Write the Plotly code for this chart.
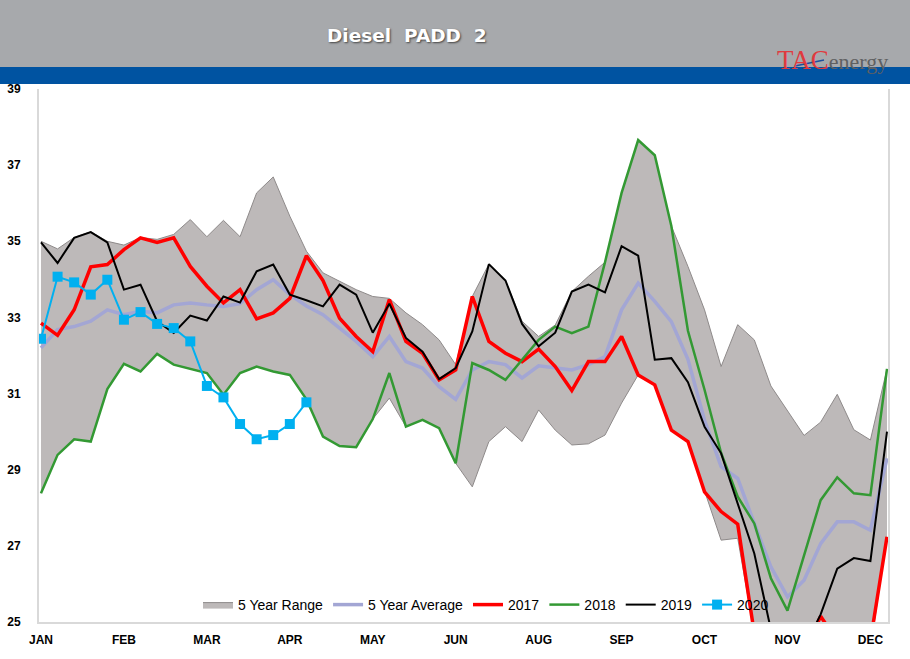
import plotly.graph_objects as go

# ---------------- data ----------------
weeks = list(range(1, 53))
month_ticks = [1, 6, 11, 16, 21, 26, 31, 36, 41, 46, 51]
month_labels = ["JAN", "FEB", "MAR", "APR", "MAY", "JUN", "AUG", "SEP", "OCT", "NOV", "DEC"]

range_high = [35.0, 34.8, 35.1, 35.25, 35.0, 34.9, 35.1, 35.05, 35.18, 35.57,
              35.12, 35.55, 35.12, 36.27, 36.69, 35.66, 34.74, 34.17, 33.95, 33.73,
              33.55, 33.5, 33.12, 32.81, 32.41, 31.76, 33.55, 34.4, 33.97, 32.9,
              32.5, 32.8, 33.68, 34.08, 34.45, 36.27, 37.66, 37.26, 35.4, 34.34,
              33.2, 31.71, 32.81, 32.41, 31.2, 30.56, 29.9, 30.25, 30.98, 30.05,
              29.78, 31.65]
range_low = [28.38, 29.39, 29.8, 29.74, 31.12, 31.78, 31.58, 32.04, 31.76, 31.64,
             31.54, 30.97, 31.54, 31.71, 31.58, 31.49, 30.85, 29.87, 29.62, 29.59,
             30.33, 30.88, 30.13, 30.31, 30.09, 29.17, 28.55, 29.74, 30.13, 29.74,
             30.57, 30.04, 29.65, 29.68, 29.91, 30.75, 31.49, 31.23, 30.04, 29.74,
             28.42, 27.15, 27.2, 24.7, 24.0, 23.5, 24.0, 24.8, 24.5, 24.0,
             24.3, 27.24]
avg5 = [32.2, 32.68, 32.76, 32.9, 33.2, 33.07, 33.16, 33.12, 33.33, 33.38,
        33.33, 33.29, 33.36, 33.73, 33.99, 33.6, 33.3, 33.07, 32.72, 32.37,
        31.97, 32.5, 31.84, 31.67, 31.18, 30.85, 31.62, 31.84, 31.76, 31.41,
        31.73, 31.67, 31.62, 31.76, 31.97, 33.2, 33.9, 33.42, 32.89, 31.9,
        30.3, 29.08, 28.77, 27.59, 26.45, 25.66, 26.1, 27.06, 27.63, 27.63,
        27.41, 29.3]
y2017 = [32.85, 32.53, 33.2, 34.33, 34.39, 34.78, 35.09, 34.97, 35.09, 34.34,
         33.82, 33.38, 33.73, 32.96, 33.12, 33.5, 34.62, 33.97, 32.98, 32.5,
         32.1, 33.47, 32.37, 32.06, 31.36, 31.62, 33.55, 32.37, 32.06, 31.84,
         32.17, 31.71, 31.08, 31.84, 31.84, 32.5, 31.49, 31.23, 30.04, 29.74,
         28.42, 27.9, 27.57, 24.7, 24.0, 23.5, 24.2, 25.15, 24.5, 24.0,
         24.5, 27.24]
y2018 = [28.38, 29.39, 29.8, 29.74, 31.12, 31.78, 31.58, 32.04, 31.76, 31.64,
         31.54, 30.97, 31.54, 31.71, 31.58, 31.49, 30.85, 29.87, 29.62, 29.59,
         30.33, 31.54, 30.13, 30.31, 30.09, 29.17, 31.8, 31.62, 31.36, 31.89,
         32.41, 32.76, 32.59, 32.76, 34.45, 36.27, 37.66, 37.26, 35.4, 32.65,
         31.1, 29.44, 28.29, 27.59, 26.15, 25.3, 26.76, 28.2, 28.8, 28.38,
         28.33, 31.65]
y2019 = [34.97, 34.43, 35.09, 35.24, 34.97, 33.73, 33.86, 32.9, 32.59, 33.05,
         32.92, 33.55, 33.39, 34.21, 34.39, 33.6, 33.45, 33.29, 33.86, 33.6,
         32.6, 33.36, 32.46, 32.1, 31.38, 31.67, 32.63, 34.4, 33.97, 32.83,
         32.24, 32.6, 33.68, 33.86, 33.66, 34.87, 34.62, 31.89, 31.93, 31.3,
         30.13, 29.43, 28.11, 26.8, 24.8, 24.0, 24.3, 25.2, 26.4, 26.68,
         26.6, 30.0]
y2020 = [32.44, 34.07, 33.92, 33.6, 33.99, 32.94, 33.14, 32.83, 32.72, 32.37,
         31.2, 30.9, 30.2, 29.8, 29.91, 30.2, 30.77]

y_ticks = [25, 27, 29, 31, 33, 35, 37, 39]

# ---------------- figure ----------------
fig = go.Figure()

fig.add_trace(go.Scatter(x=weeks, y=range_high, mode="lines",
                         line=dict(color="#8e8a8a", width=1),
                         showlegend=False, hoverinfo="skip"))
fig.add_trace(go.Scatter(x=weeks, y=range_low, mode="lines", name="5 Year Range",
                         fill="tonexty", fillcolor="#bdb9b9",
                         line=dict(color="#8e8a8a", width=1)))
fig.add_trace(go.Scatter(x=weeks, y=avg5, mode="lines", name="5 Year Average",
                         line=dict(color="#a3a6d4", width=3.5)))
fig.add_trace(go.Scatter(x=weeks, y=y2017, mode="lines", name="2017",
                         line=dict(color="#ff0000", width=3.5)))
fig.add_trace(go.Scatter(x=weeks, y=y2018, mode="lines", name="2018",
                         line=dict(color="#339933", width=2.5)))
fig.add_trace(go.Scatter(x=weeks, y=y2019, mode="lines", name="2019",
                         line=dict(color="#000000", width=2)))
fig.add_trace(go.Scatter(x=weeks[:len(y2020)], y=y2020, mode="lines+markers", name="2020",
                         line=dict(color="#00b0f0", width=2),
                         marker=dict(symbol="square", size=10, color="#00b0f0")))

L, T, W, H = 39, 89, 849, 533


def px(p):
    return (p - L) / W


def py(p):
    return (T + H - p) / H


shapes = [
    dict(type="rect", xref="paper", yref="paper", x0=px(0), x1=px(910), y0=py(67), y1=py(0),
         fillcolor="#a7a9ac", line=dict(width=0), layer="above"),
    dict(type="rect", xref="paper", yref="paper", x0=px(0), x1=px(910), y0=py(84), y1=py(67),
         fillcolor="#0053a1", line=dict(width=0), layer="above"),
]

annotations = [
    dict(text="Diesel&nbsp; PADD&nbsp; 2", xref="paper", yref="paper", x=px(407), y=py(35),
         showarrow=False, xanchor="center", yanchor="middle",
         font=dict(family="DejaVu Sans", size=18.5, color="white", weight="bold",
                   shadow="1px 1px 2px #444")),
    dict(text="<span style='color:#e03a3e;font-size:27px'>TAC</span><span style='color:#5f6062'>energy</span>",
         xref="paper", yref="paper", x=px(775), y=py(59.5), showarrow=False,
         xanchor="left", yanchor="middle",
         font=dict(family="Liberation Serif, Times New Roman, serif", size=22)),
]

fig.update_layout(
    width=910, height=659,
    margin=dict(l=L, r=910 - L - W, t=T, b=659 - T - H, pad=0, autoexpand=False),
    paper_bgcolor="white", plot_bgcolor="white",
    shapes=shapes, annotations=annotations,
    showlegend=True,
    legend=dict(orientation="h", x=px(486), xanchor="center", y=py(605), yanchor="middle",
                bgcolor="rgba(0,0,0,0)", font=dict(family="Liberation Sans, Arial", size=14, color="#000"),
                itemwidth=30, traceorder="normal"),
    xaxis=dict(range=[0.88, 52.06], tickmode="array", tickvals=month_ticks, ticktext=month_labels,
               showgrid=False, zeroline=False, showline=True, linecolor="#d9d9d9", linewidth=2,
               ticks="", ticklabelstandoff=6, automargin=False,
               tickfont=dict(family="Liberation Sans, Arial", size=12, color="#000", weight="bold")),
    yaxis=dict(range=[25, 39], tickmode="array", tickvals=y_ticks,
               showgrid=False, zeroline=False, showline=True, mirror=True,
               linecolor="#d9d9d9", linewidth=2, ticks="", ticklabelstandoff=14, automargin=False,
               tickfont=dict(family="Liberation Sans, Arial", size=12, color="#000", weight="bold")),
)

# thin blue swoosh of the logo, drawn above the header band
fig.add_shape(type="line", xref="paper", yref="paper", x0=px(795), x1=px(824), y0=py(66), y1=py(60),
              line=dict(color="#1d4f9e", width=1.5), layer="above")

fig.write_html("out.html", config={"displayModeBar": False},
               post_script="document.body.style.margin='0px';")
